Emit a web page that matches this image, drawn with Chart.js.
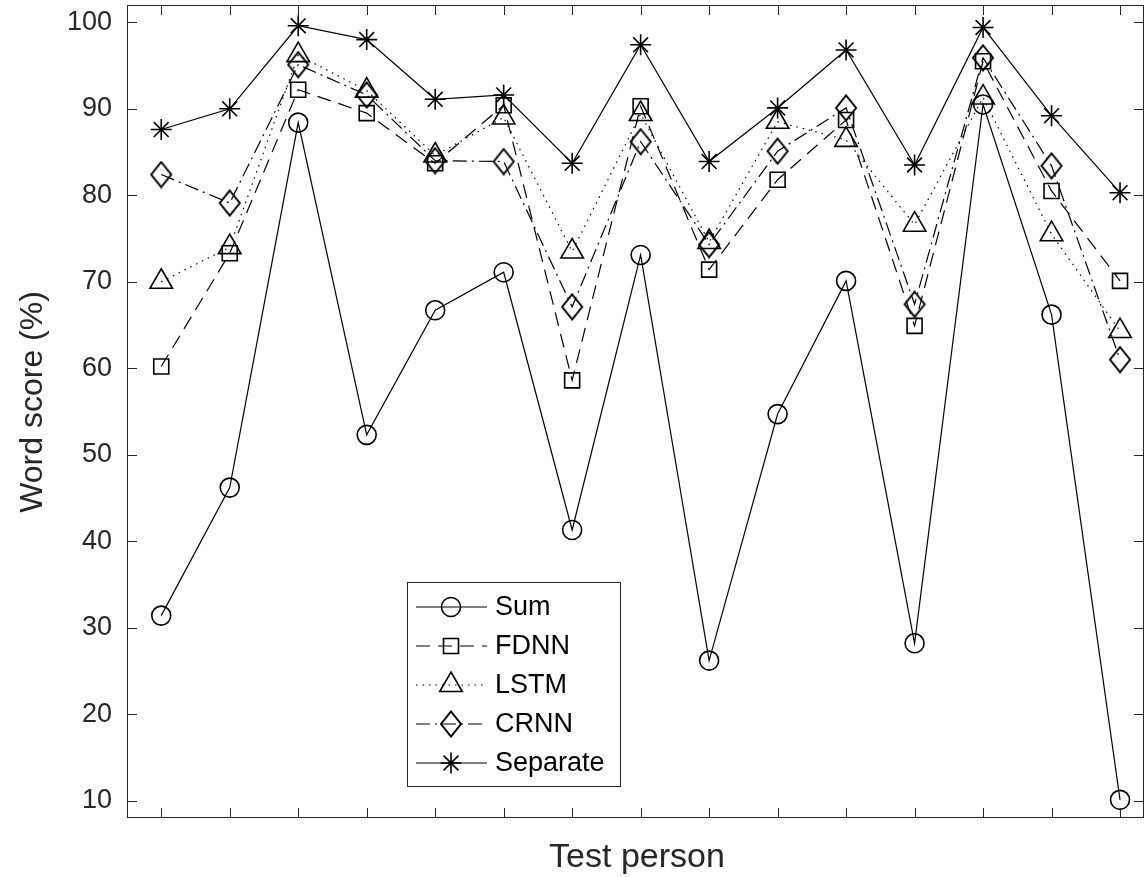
<!DOCTYPE html>
<html>
<head>
<meta charset="utf-8">
<script src="https://cdn.jsdelivr.net/npm/chart.js"></script>
<style>
  body { margin: 0; background: #fff; }
  canvas { display: block; }
</style>
</head>
<body>
<canvas id="myChart" width="1145" height="877"></canvas>
<script>
"use strict";

// data
var persons = [1, 2, 3, 4, 5, 6, 7, 8, 9, 10, 11, 12, 13, 14, 15];
var yTicks = [10, 20, 30, 40, 50, 60, 70, 80, 90, 100];
var seriesNames = ["Sum", "FDNN", "LSTM", "CRNN", "Separate"];
var sumScores = [31.4, 46.2, 88.4, 52.3, 66.7, 71.1, 41.3, 73.1, 26.2, 54.7, 70.1, 28.2, 90.5, 66.2, 10.1];
var fdnnScores = [60.2, 73.3, 92.2, 89.5, 83.7, 90.4, 58.6, 90.3, 71.4, 81.8, 88.7, 64.9, 95.5, 80.5, 70.1];
var lstmScores = [70.0, 74.0, 96.2, 92.1, 84.6, 89.0, 73.5, 89.4, 74.6, 88.5, 86.4, 76.6, 91.3, 75.5, 64.3];
var crnnScores = [82.4, 79.1, 95.1, 91.6, 84.0, 83.9, 67.1, 86.2, 74.3, 85.1, 90.1, 67.4, 95.9, 83.4, 61.0];
var separateScores = [87.6, 90.0, 99.6, 98.0, 91.1, 91.6, 83.7, 97.4, 83.9, 90.1, 96.8, 83.5, 99.4, 89.2, 80.3];

var FONT = '"Liberation Sans", Arial, Helvetica, sans-serif';
var AXIS_COLOR = "#262626";

// narrow diamond like matlab's 'd' marker
var diamond = document.createElement("canvas");
diamond.width = 24;
diamond.height = 28;
(function () {
  var c = diamond.getContext("2d");
  c.strokeStyle = "#000";
  c.lineWidth = 2;
  c.beginPath();
  c.moveTo(12, 1.5);
  c.lineTo(22, 14);
  c.lineTo(12, 26.5);
  c.lineTo(2, 14);
  c.closePath();
  c.stroke();
})();

function points(values) {
  return values.map(function (v, i) {
    return { x: persons[i], y: v };
  });
}

var styles = [
  { data: sumScores, pointStyle: "circle", radius: 9.5, dash: [] },
  { data: fdnnScores, pointStyle: "rect", radius: 10.6, dash: [14, 8] },
  { data: lstmScores, pointStyle: "triangle", radius: 13, dash: [1.5, 5] },
  { data: crnnScores, pointStyle: diamond, radius: 12, dash: [14, 5, 2, 5] },
  { data: separateScores, pointStyle: "star", radius: 10.5, dash: [] }
];

// draws a marker for the legend box
function drawMarker(ctx, style, x, y, r) {
  ctx.save();
  ctx.setLineDash([]);
  ctx.lineWidth = 1.6;
  ctx.strokeStyle = "#000";
  ctx.beginPath();
  if (style === "circle") {
    ctx.arc(x, y, r, 0, Math.PI * 2);
  } else if (style === "rect") {
    var s = r * Math.SQRT1_2;
    ctx.rect(x - s, y - s, 2 * s, 2 * s);
  } else if (style === "triangle") {
    var a = 0;
    ctx.moveTo(x + Math.sin(a) * r, y - Math.cos(a) * r);
    a += (2 * Math.PI) / 3;
    ctx.lineTo(x + Math.sin(a) * r, y - Math.cos(a) * r);
    a += (2 * Math.PI) / 3;
    ctx.lineTo(x + Math.sin(a) * r, y - Math.cos(a) * r);
    ctx.closePath();
  } else if (style === "star") {
    for (var k = 0; k < 4; k++) {
      var t = (k * Math.PI) / 4;
      ctx.moveTo(x - Math.cos(t) * r, y - Math.sin(t) * r);
      ctx.lineTo(x + Math.cos(t) * r, y + Math.sin(t) * r);
    }
  } else {
    ctx.drawImage(style, Math.round(x - style.width / 2), Math.round(y - style.height / 2));
  }
  ctx.stroke();
  ctx.restore();
}

var framePlugin = {
  id: "frame",
  afterDraw: function (chart) {
    var ctx = chart.ctx;
    var area = chart.chartArea;
    var xs = chart.scales.x;
    var ys = chart.scales.y;
    ctx.save();

    // box and inward ticks
    ctx.strokeStyle = AXIS_COLOR;
    ctx.lineWidth = 1;
    ctx.setLineDash([]);
    ctx.strokeRect(area.left + 0.5, area.top + 0.5, area.right - area.left - 1, area.bottom - area.top - 1);
    ctx.beginPath();
    persons.forEach(function (p) {
      var x = Math.round(xs.getPixelForValue(p)) + 0.5;
      ctx.moveTo(x, area.bottom);
      ctx.lineTo(x, area.bottom - 10);
      ctx.moveTo(x, area.top);
      ctx.lineTo(x, area.top + 10);
    });
    yTicks.forEach(function (v) {
      var y = Math.round(ys.getPixelForValue(v)) + 0.5;
      ctx.moveTo(area.left, y);
      ctx.lineTo(area.left + 10, y);
      ctx.moveTo(area.right, y);
      ctx.lineTo(area.right - 10, y);
    });
    ctx.stroke();

    // axis titles
    ctx.fillStyle = AXIS_COLOR;
    ctx.textAlign = "center";
    ctx.textBaseline = "alphabetic";
    ctx.font = "34px " + FONT;
    ctx.fillText("Test person", 637, 867);
    ctx.font = "32px " + FONT;
    ctx.save();
    ctx.translate(42, 402);
    ctx.rotate(-Math.PI / 2);
    ctx.fillText("Word score (%)", 0, 0);
    ctx.restore();

    // legend box
    var bx = 407, by = 582, bw = 213, bh = 204;
    ctx.fillStyle = "#fff";
    ctx.fillRect(bx, by, bw, bh);
    ctx.strokeRect(bx + 0.5, by + 0.5, bw, bh);
    ctx.font = "27px " + FONT;
    ctx.textAlign = "left";
    ctx.textBaseline = "middle";
    seriesNames.forEach(function (name, i) {
      var y = 607 + i * 39;
      var st = styles[i];
      ctx.save();
      ctx.strokeStyle = "#000";
      ctx.lineWidth = 1.2;
      ctx.setLineDash(st.dash);
      ctx.beginPath();
      ctx.moveTo(416, y);
      ctx.lineTo(487, y);
      ctx.stroke();
      ctx.restore();
      drawMarker(ctx, st.pointStyle, 451, y, st.radius);
      ctx.fillStyle = "#000";
      ctx.fillText(name, 495, y + 1);
    });
    ctx.restore();
  }
};

var ctx = document.getElementById("myChart").getContext("2d");
var myChart = new Chart(ctx, {
  type: "line",
  data: {
    datasets: styles.map(function (st, i) {
      return {
        label: seriesNames[i],
        data: points(st.data),
        borderColor: "#000",
        borderWidth: 1.2,
        borderDash: st.dash,
        pointStyle: st.pointStyle,
        pointRadius: st.radius,
        pointBorderWidth: 1.6,
        pointBorderColor: "#000",
        pointBackgroundColor: "rgba(0,0,0,0)",
        fill: false,
        tension: 0,
        clip: 20
      };
    })
  },
  options: {
    responsive: false,
    animation: false,
    devicePixelRatio: 1,
    layout: {
      autoPadding: false,
      padding: { top: 5, right: 1, bottom: 59, left: 0 }
    },
    plugins: {
      legend: { display: false },
      tooltip: { enabled: false }
    },
    scales: {
      x: {
        type: "linear",
        display: false,
        min: 0.5,
        max: 15.35
      },
      y: {
        min: 8,
        max: 102,
        afterFit: function (scale) {
          scale.width = 127;
          scale.paddingTop = 0;
          scale.paddingBottom = 0;
        },
        afterBuildTicks: function (scale) {
          scale.ticks = yTicks.map(function (v) {
            return { value: v };
          });
        },
        grid: { display: false, drawTicks: false },
        border: { display: false },
        ticks: {
          padding: 15,
          color: AXIS_COLOR,
          font: { family: FONT, size: 27 }
        }
      }
    }
  },
  plugins: [framePlugin]
});
</script>
</body>
</html>
